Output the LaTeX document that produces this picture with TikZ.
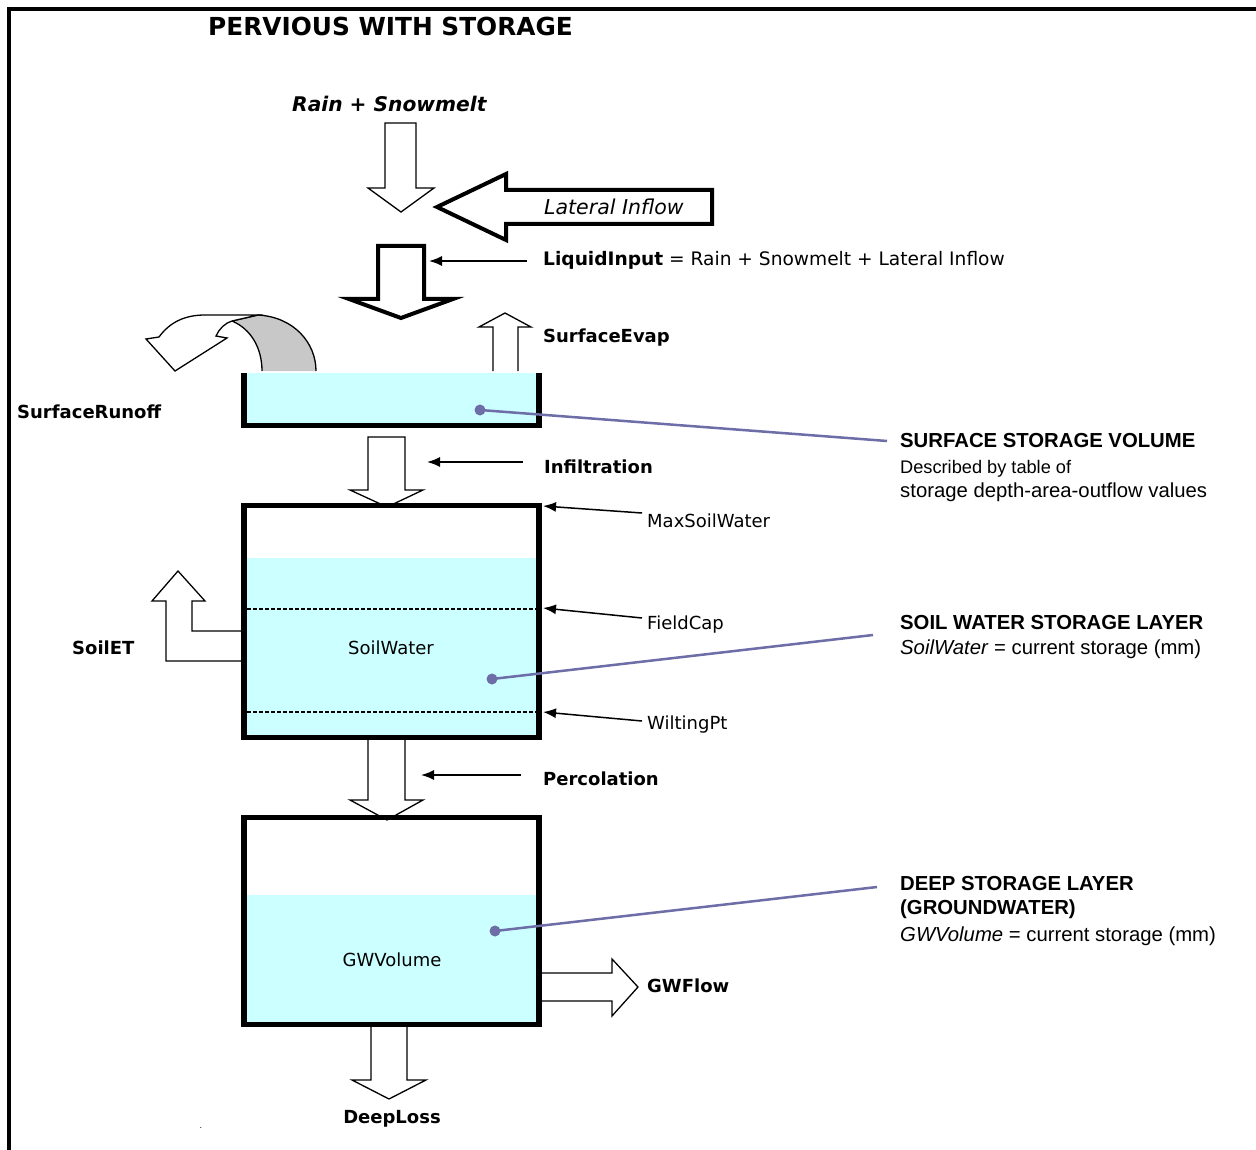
\documentclass[tikz,border=0pt]{standalone}
\usepackage{fontspec}
\setmainfont{DejaVu Sans}
\newfontfamily\arialf{Liberation Sans}
\usetikzlibrary{arrows.meta}
\definecolor{water}{HTML}{CCFFFF}
\definecolor{ptr}{HTML}{6D6DA8}
\definecolor{runoffgray}{HTML}{C8C8C8}
\begin{document}
\begin{tikzpicture}[x=1pt,y=-1pt,
  lbl/.style={inner sep=0pt, anchor=base west, font=\fontsize{18}{20}\selectfont},
  blbl/.style={lbl, font=\fontsize{18}{20}\selectfont\bfseries},
  clbl/.style={lbl, anchor=base},
  note/.style={inner sep=0pt, anchor=base west, font=\arialf\fontsize{20.3}{22}\selectfont},
  bnote/.style={note, font=\arialf\fontsize{20.3}{22}\selectfont\bfseries},
  thinarrow/.style={draw=black, line width=1.3pt, fill=white, line join=miter},
  thickarrow/.style={draw=black, line width=4pt, fill=white, line join=miter},
  tank/.style={line width=5.5pt, line join=miter},
  pointer/.style={line width=1.5pt, -{Latex[length=13pt,width=10pt]}},
  leader/.style={draw=ptr, line width=2.5pt},
  dotm/.style={circle, fill=ptr, inner sep=0pt, minimum size=11pt},
  level/.style={line width=2pt, dash pattern=on 4pt off 2pt}
]
\useasboundingbox (0,0) rectangle (1256,1150);
\fill[white] (0,0) rectangle (1256,1150);
% frame
\draw[line width=3.6pt, line join=miter] (9.2,1152) -- (9.2,9.2) -- (1258,9.2);

% title
\node[inner sep=0pt, anchor=base west, font=\fontsize{24.8}{26}\selectfont\bfseries] (title) at (208,36) {PERVIOUS WITH STORAGE};

% rain + snowmelt
\node[inner sep=0pt, anchor=base west, font=\fontsize{20.2}{22}\selectfont\bfseries\itshape] (rain) at (292,112) {Rain + Snowmelt};
\filldraw[thinarrow] (385,123) -- (416,123) -- (416,188) -- (434,188) -- (401,212) -- (368,188) -- (385,188) -- cycle;

% lateral inflow
\filldraw[thickarrow] (437,207) -- (506,174) -- (506,190) -- (712,190) -- (712,224) -- (506,224) -- (506,240) -- cycle;
\node[inner sep=0pt, anchor=base west, font=\fontsize{20.5}{22}\selectfont\itshape] (lateral) at (544,215) {Lateral Inflow};

% liquid input
\filldraw[thickarrow] (378,246) -- (424,246) -- (424,299) -- (453,299) -- (401,318) -- (349,299) -- (378,299) -- cycle;
\coordinate (liqS) at (527,261);
\coordinate (liqT) at (429,261);
\draw[pointer] (liqS) -- (liqT);
\node[lbl, font=\fontsize{18.6}{20}\selectfont] (liquid) at (543,266) {\textbf{LiquidInput} = Rain + Snowmelt + Lateral Inflow};

% surface evap
\filldraw[thinarrow] (493,371) -- (493,327) -- (479,327) -- (505,313) -- (531,327) -- (518,327) -- (518,371);
\node[blbl] (evap) at (543,342) {SurfaceEvap};

% surface runoff
\filldraw[thinarrow, fill=runoffgray] (262,371) .. controls (262,348) and (251,329) .. (232,321) -- (258,315) .. controls (294,317) and (316,343) .. (316,371);
\filldraw[thinarrow] (232,321) -- (258,315) -- (205,315) .. controls (185,315) and (170,322) .. (159,337) -- (146,339) -- (175,371) -- (227,338) -- (216,336) .. controls (219,329) and (225,323) .. (232,321) -- cycle;
\node[blbl] (runoff) at (17,418) {SurfaceRunoff};

% surface tank
\fill[water] (247,373) rectangle (536,423);
\draw[tank] (244.2,373) -- (244.2,425.5) -- (538.8,425.5) -- (538.8,373);

% infiltration
\filldraw[thinarrow] (368,437) -- (405,437) -- (405,490) -- (423,490) -- (387,507) -- (350,490) -- (368,490) -- cycle;
\coordinate (infS) at (523,462);
\coordinate (infT) at (427,462);
\draw[pointer] (infS) -- (infT);
\node[blbl] (infil) at (544,473) {Infiltration};

% soil ET
\filldraw[thinarrow] (242,631) -- (192,631) -- (192,601) -- (205,601) -- (178,571) -- (152,601) -- (166,601) -- (166,661) -- (242,661);
\node[blbl] (soilet) at (72,654) {SoilET};

% percolation
\filldraw[thinarrow] (368,738) -- (405,738) -- (405,800) -- (423,800) -- (387,820) -- (350,800) -- (368,800) -- cycle;
\coordinate (perS) at (521,775);
\coordinate (perT) at (421,775);
\draw[pointer] (perS) -- (perT);
\node[blbl] (perc) at (543,785) {Percolation};

% soil tank
\fill[water] (247,558) rectangle (536,735);
\draw[tank] (244.2,505.5) rectangle (538.8,737.5);
\draw[level] (247,608.5) -- (536,608.5);
\draw[level] (247,711.5) -- (536,711.5);
\node[clbl] (soilw) at (391,654) {SoilWater};

\coordinate (maxS) at (642,513);
\coordinate (maxT) at (543,506);
\draw[pointer] (maxS) -- (maxT);
\node[lbl] (maxsw) at (647,527) {MaxSoilWater};
\coordinate (fcS) at (642,618);
\coordinate (fcT) at (543,608);
\draw[pointer] (fcS) -- (fcT);
\node[lbl] (fc) at (647,629) {FieldCap};
\coordinate (wpS) at (642,721);
\coordinate (wpT) at (543,712);
\draw[pointer] (wpS) -- (wpT);
\node[lbl] (wp) at (647,729) {WiltingPt};

% GW flow and deep loss arrows
\filldraw[thinarrow] (537,973) -- (612,973) -- (612,959) -- (638,987) -- (612,1016) -- (612,1001) -- (537,1001) -- cycle;
\node[blbl] (gwflow) at (647,992) {GWFlow};
\filldraw[thinarrow] (371,1024) -- (371,1080) -- (352,1080) -- (389,1099) -- (426,1080) -- (407,1080) -- (407,1024);
\node[blbl, anchor=base] (deeploss) at (392,1123) {DeepLoss};

% deep tank
\fill[water] (247,895) rectangle (536,1022);
\draw[tank] (244.2,817.5) rectangle (538.8,1024.5);
\node[clbl] (gwvol) at (392,966) {GWVolume};

% leaders
\node[dotm] (d1) at (480,410) {};
\coordinate (l1) at (887,441);
\draw[leader] (d1.center) -- (l1);
\node[dotm] (d2) at (492,679) {};
\coordinate (l2) at (873,635);
\draw[leader] (d2.center) -- (l2);
\node[dotm] (d3) at (495,931) {};
\coordinate (l3) at (877,887);
\draw[leader] (d3.center) -- (l3);

% notes
\node[bnote] (n1a) at (900,447) {SURFACE STORAGE VOLUME};
\node[note, font=\arialf\fontsize{18.2}{20}\selectfont] (n1b) at (900,473) {Described by table of};
\node[note] (n1c) at (900,497) {storage depth-area-outflow values};
\node[bnote] (n2a) at (900,629) {SOIL WATER STORAGE LAYER};
\node[note] (n2b) at (900,654) {\textit{SoilWater} = current storage (mm)};
\node[bnote] (n3a) at (900,890) {DEEP STORAGE LAYER};
\node[bnote] (n3b) at (900,914) {(GROUNDWATER)};
\node[note] (n3c) at (900,941) {\textit{GWVolume} = current storage (mm)};

\node[inner sep=0pt, anchor=base, font=\fontsize{8}{8}\selectfont] (tick) at (201,1128) {.};
\end{tikzpicture}
\end{document}
